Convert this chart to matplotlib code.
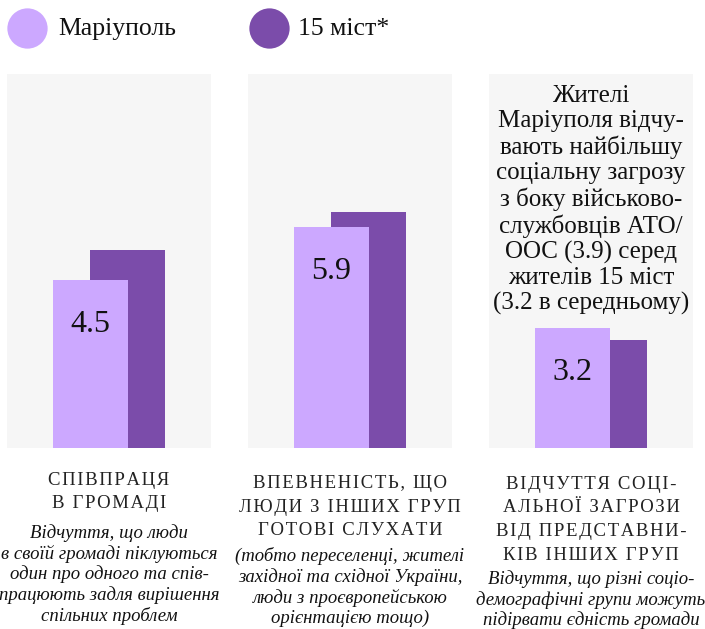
import numpy as np
import matplotlib
matplotlib.use('Agg')
import matplotlib.pyplot as plt
from matplotlib.lines import Line2D

plt.rcParams['font.family'] = ['Liberation Serif', 'DejaVu Serif']

series = ['Маріуполь', '15 міст*']
mariupol = [4.5, 5.9, 3.2]
cities15 = [5.3, 6.3, 2.9]
value_labels = ['4.5', '5.9', '3.2']
titles = ['СПІВПРАЦЯ\nВ ГРОМАДІ',
          'ВПЕВНЕНІСТЬ, ЩО\nЛЮДИ З ІНШИХ ГРУП\nГОТОВІ СЛУХАТИ',
          'ВІДЧУТТЯ СОЦІ-\nАЛЬНОЇ ЗАГРОЗИ\nВІД ПРЕДСТАВНИ-\nКІВ ІНШИХ ГРУП']
subtitles = ['Відчуття, що люди\nв своїй громаді піклуються\nодин про одного та спів-\nпрацюють задля вирішення\nспільних проблем',
             '(тобто переселенці, жителі\nзахідної та східної України,\nлюди з проєвропейською\nорієнтацією тощо)',
             'Відчуття, що різні соціо-\nдемографічні групи можуть\nпідірвати єдність громади']
note = ('Жителі\nМаріуполя відчу-\nвають найбільшу\nсоціальну загрозу\n'
        'з боку військово-\nслужбовців АТО/\nООС (3.9) серед\nжителів 15 міст\n(3.2 в середньому)')

LIGHT = '#cca8ff'
DARK = '#7b4caa'
BG = '#f6f6f6'

W, H = 705, 629
fig = plt.figure(figsize=(W / 100, H / 100), dpi=100)


def px(x, y):
    return x / W, 1 - y / H


def spaced(s):
    # letter spacing for caps titles
    return '\n'.join('\u200a'.join(line) for line in s.split('\n'))


panel_left = [7, 248, 489]
title_y = [472, 475, 476]
sub_y = [524, 547, 570]

for i in range(3):
    l, b = px(panel_left[i], 448)
    ax = fig.add_axes([l, b, 204 / W, 374 / H])
    ax.set_facecolor(BG)
    ax.bar(0.253, cities15[i], width=1.0, color=DARK, zorder=2)
    ax.bar(-0.253, mariupol[i], width=1.0, color=LIGHT, zorder=3)
    ax.annotate(value_labels[i], (-0.253, mariupol[i]), xytext=(0, -32),
                textcoords='offset points', ha='center', va='center',
                fontsize=23, color='#111111', zorder=4)
    ax.set_xlim(-1.36, 1.36)
    ax.set_ylim(0, 10)
    ax.set_xticks([])
    ax.set_yticks([])
    for s in ax.spines.values():
        s.set_visible(False)

    cx = panel_left[i] + 102
    fig.text(*px(cx, title_y[i]), spaced(titles[i]), ha='center', va='top',
             fontsize=13.5, color='#222222', linespacing=1.5)
    fig.text(*px(cx, sub_y[i]), subtitles[i], ha='center', va='top',
             fontsize=13.5, style='italic', color='#111111', linespacing=1.2)

fig.text(*px(591, 200), note, ha='center', va='center', fontsize=18,
         color='#111111', linespacing=1.18)

# legend
for x, c, lab, tx in [(27, LIGHT, series[0], 58), (269, DARK, series[1], 298)]:
    fig.add_artist(Line2D([x / W], [1 - 28 / H], marker='o', markersize=29,
                          color=c, markeredgewidth=0, transform=fig.transFigure))
    fig.text(*px(tx, 29), lab, ha='left', va='center', fontsize=18.5,
             color='#111111')

fig.savefig('out.png', dpi=100)
